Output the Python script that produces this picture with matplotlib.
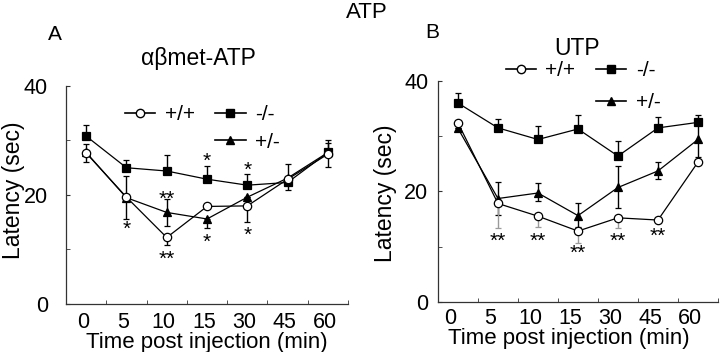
import matplotlib
matplotlib.use("Agg")
import matplotlib.pyplot as plt
from matplotlib.lines import Line2D
from matplotlib.transforms import ScaledTranslation
import numpy as np

plt.rcParams['font.family'] = ['Liberation Sans', 'DejaVu Sans']

# ---------------- data ----------------
time_labels = ['0', '5', '10', '15', '30', '45', '60']
genotypes = ['+/+', '-/-', '+/-']

# Panel A: alpha-beta-met-ATP
A_wt = [27.7, 19.6, 12.2, 17.9, 18.0, 22.9, 27.5]
A_wt_lo = [1.6, 0.0, 1.4, 0.0, 3.0, 0.0, 2.3]
A_wt_hi = [0.0, 0.0, 0.0, 0.0, 0.0, 0.0, 0.0]
A_ko = [30.8, 25.0, 24.4, 22.9, 21.8, 22.3, 27.8]
A_ko_lo = [0.0, 0.0, 0.0, 0.0, 0.0, 1.4, 0.0]
A_ko_hi = [2.0, 1.4, 2.9, 2.5, 2.1, 0.0, 2.3]
A_het = [27.8, 19.5, 16.8, 15.6, 19.6, 23.1, 27.8]
A_het_lo = [0.0, 3.9, 2.4, 1.7, 0.0, 0.0, 0.0]
A_het_hi = [1.6, 3.9, 2.5, 0.0, 0.0, 2.5, 1.8]
A_stars_x = [1, 2, 2, 3, 3, 4, 4]
A_stars_y = [14.7, 20.3, 9.3, 27.2, 12.3, 25.6, 13.6]
A_stars_txt = ['*', '**', '**', '*', '*', '*', '*']

# Panel B: UTP
B_wt = [32.4, 17.8, 15.5, 12.8, 15.2, 14.8, 25.3]
B_wt_lo = [0.0, 4.5, 2.0, 2.2, 1.8, 0.0, 0.0]
B_wt_hi = [0.0, 0.0, 0.0, 0.0, 0.0, 0.0, 0.0]
B_ko = [36.0, 31.5, 29.4, 31.3, 26.4, 31.5, 32.5]
B_ko_lo = [0.0, 0.0, 0.0, 0.0, 0.0, 0.0, 0.0]
B_ko_hi = [1.9, 1.6, 2.4, 2.6, 2.7, 2.0, 1.3]
B_het = [31.4, 18.7, 19.7, 15.6, 20.7, 23.7, 29.4]
B_het_lo = [0.0, 3.0, 1.4, 2.0, 3.8, 1.5, 3.1]
B_het_hi = [0.0, 3.0, 1.9, 2.2, 3.9, 1.6, 3.4]
B_stars_x = [1, 2, 3, 4, 5]
B_stars_y = [12.0, 12.0, 9.7, 11.9, 12.8]
B_stars_txt = ['**', '**', '**', '**', '**']

# ---------------- drawing ----------------
fig = plt.figure(figsize=(7.2, 3.52), dpi=100)
axA = fig.add_axes([0.0917, 0.1364, 0.3917, 0.6193])
axB = fig.add_axes([0.6083, 0.1429, 0.3889, 0.6270])

spine_col = '#333333'

def draw_panel(ax, wt, wt_lo, wt_hi, ko, ko_lo, ko_hi, het, het_lo, het_hi,
               wt_err_col, sx, sy, stxt, ytick_pad, xtick_pad, xtick_shift):
    x = np.arange(len(time_labels))
    common = dict(color='black', lw=0.9, capsize=2.5, elinewidth=1.0,
                  capthick=1.0, markersize=6, markeredgewidth=0.9)
    ax.errorbar(x, ko, yerr=[ko_lo, ko_hi], fmt='-s', mfc='black', mec='black',
                ecolor='black', zorder=3, **common)
    ax.errorbar(x, het, yerr=[het_lo, het_hi], fmt='-^', mfc='black', mec='black',
                ecolor='black', zorder=4, **common)
    ax.errorbar(x, wt, yerr=[wt_lo, wt_hi], fmt='-o', mfc='white', mec='black',
                ecolor=wt_err_col, zorder=5, **common)
    for xi, yi, t in zip(sx, sy, stxt):
        ax.annotate(t, (xi, yi), xytext=(0, -8.0), textcoords='offset points',
                    ha='center', va='baseline', fontsize=15)
    ax.set_xlim(-0.5, 6.5)
    ax.set_ylim(0, 40)
    for s in ['top', 'right']:
        ax.spines[s].set_visible(False)
    for s in ['left', 'bottom']:
        ax.spines[s].set_color(spine_col)
        ax.spines[s].set_linewidth(0.9)
    ax.set_xticks(x)
    ax.set_xticklabels(time_labels, fontsize=15.5)
    ax.set_xticks(np.arange(0.5, 7.0, 1.0), minor=True)
    ax.tick_params(axis='x', which='major', length=0, pad=xtick_pad)
    ax.tick_params(axis='x', which='minor', direction='in', length=3,
                   color=spine_col)
    ax.set_yticks([0, 20, 40])
    ax.set_yticklabels(['0', '20', '40'], fontsize=15.5)
    ax.set_yticks([10, 30], minor=True)
    ax.tick_params(axis='y', which='both', direction='in', length=3,
                   color=spine_col, pad=ytick_pad)
    off = ScaledTranslation(xtick_shift / 100.0, 0, fig.dpi_scale_trans)
    for lab in ax.get_xticklabels():
        lab.set_transform(lab.get_transform() + off)
    ax.set_xlabel('Time post injection (min)', fontsize=16)
    ax.set_ylabel('Latency (sec)', fontsize=16.5)

def add_legend(ax, anchor, labelspacing):
    h_wt = Line2D([], [], color='black', lw=1.2, marker='o', mfc='white',
                  mec='black', markersize=6)
    h_ko = Line2D([], [], color='black', lw=1.2, marker='s', mfc='black',
                  mec='black', markersize=6)
    h_het = Line2D([], [], color='black', lw=1.2, marker='^', mfc='black',
                   mec='black', markersize=6)
    h_blank = Line2D([], [], alpha=0)
    ax.legend([h_wt, h_blank, h_ko, h_het], [genotypes[0], '', genotypes[1], genotypes[2]],
              ncol=2, loc='upper left', bbox_to_anchor=anchor, frameon=False,
              fontsize=15, handlelength=1.45, handletextpad=0.45,
              columnspacing=1.0, labelspacing=labelspacing, borderpad=0,
              borderaxespad=0, numpoints=1)

draw_panel(axA, A_wt, A_wt_lo, A_wt_hi, A_ko, A_ko_lo, A_ko_hi,
           A_het, A_het_lo, A_het_hi, 'black',
           A_stars_x, A_stars_y, A_stars_txt, ytick_pad=13, xtick_pad=5.5,
           xtick_shift=-3)
draw_panel(axB, B_wt, B_wt_lo, B_wt_hi, B_ko, B_ko_lo, B_ko_hi,
           B_het, B_het_lo, B_het_hi, '#9a9a9a',
           B_stars_x, B_stars_y, B_stars_txt, ytick_pad=7, xtick_pad=4.5,
           xtick_shift=-8)

axA.yaxis.set_label_coords(-0.145, 0.52)
axB.yaxis.set_label_coords(-0.146, 0.49)
axA.xaxis.set_label_coords(0.5, -0.130)
axB.xaxis.set_label_coords(0.468, -0.117)

add_legend(axA, (0.209, 0.912), 0.40)
add_legend(axB, (0.242, 1.090), 0.62)

fig.text(367 / 720, 1 - 12 / 352, 'ATP', ha='center', va='center', fontsize=16)
fig.text(55 / 720, 1 - 35 / 352, 'A', ha='center', va='center', fontsize=15)
fig.text(432 / 720, 1 - 32.5 / 352, 'B', ha='center', va='center', fontsize=15)
fig.text(198 / 720, 1 - 58 / 352, 'αβmet-ATP', ha='center', va='center', fontsize=16.5)
fig.text(577 / 720, 1 - 48.5 / 352, 'UTP', ha='center', va='center', fontsize=16.5)

fig.savefig('out.png', dpi=100)
